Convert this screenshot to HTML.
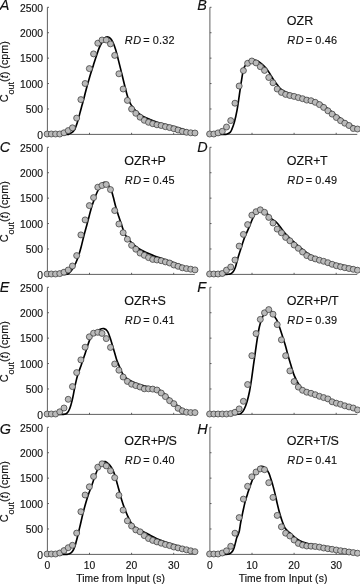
<!DOCTYPE html><html><head><meta charset="utf-8"><style>html,body{margin:0;padding:0;background:#fff;}svg{display:block;will-change:transform;}text{font-family:"Liberation Sans", sans-serif;fill:#111;stroke:#111;stroke-width:0.15px;}</style></head><body>
<svg width="360" height="584" viewBox="0 0 360 584">
<path d="M47.40,7.30 V134.40 H194.75" fill="none" stroke="#4e4e4e" stroke-width="0.9"/>
<path d="M47.40,134.40 h1.6" stroke="#4e4e4e" stroke-width="0.9"/>
<path d="M47.40,108.98 h1.6" stroke="#4e4e4e" stroke-width="0.9"/>
<path d="M47.40,83.56 h1.6" stroke="#4e4e4e" stroke-width="0.9"/>
<path d="M47.40,58.14 h1.6" stroke="#4e4e4e" stroke-width="0.9"/>
<path d="M47.40,32.72 h1.6" stroke="#4e4e4e" stroke-width="0.9"/>
<path d="M47.40,7.30 h1.6" stroke="#4e4e4e" stroke-width="0.9"/>
<path d="M47.40,134.40 v-1.6" stroke="#4e4e4e" stroke-width="0.9"/>
<path d="M89.50,134.40 v-1.6" stroke="#4e4e4e" stroke-width="0.9"/>
<path d="M131.60,134.40 v-1.6" stroke="#4e4e4e" stroke-width="0.9"/>
<path d="M173.70,134.40 v-1.6" stroke="#4e4e4e" stroke-width="0.9"/>
<text x="42.9" y="138.60" font-size="10.3" text-anchor="end">0</text>
<text x="42.9" y="113.18" font-size="10.3" text-anchor="end">500</text>
<text x="42.9" y="87.76" font-size="10.3" text-anchor="end">1000</text>
<text x="42.9" y="62.34" font-size="10.3" text-anchor="end">1500</text>
<text x="42.9" y="36.92" font-size="10.3" text-anchor="end">2000</text>
<text x="42.9" y="11.50" font-size="10.3" text-anchor="end">2500</text>
<text transform="translate(7.9,71.65) rotate(-90)" font-size="10.8" text-anchor="middle">C<tspan font-size="9" dy="6.1">out</tspan><tspan dy="-6.1">(</tspan><tspan font-style="italic">t</tspan>) (cpm)</text>
<text x="-0.30" y="9.80" font-size="14.4" font-style="italic">A</text>
<text x="124.70" y="43.60" font-size="10.9"><tspan font-style="italic" letter-spacing="0.75">RD</tspan><tspan dx="-1.7"> = </tspan><tspan letter-spacing="0.2">0.32</tspan></text>
<path d="M47.40,134.40 C50.58,134.40 62.95,134.45 66.50,134.40 C70.05,134.35 67.95,134.32 68.70,134.10 C69.45,133.88 70.28,133.52 71.00,133.10 C71.72,132.68 72.33,132.28 73.00,131.60 C73.67,130.92 74.45,130.03 75.00,129.00 C75.55,127.97 75.85,126.68 76.30,125.40 C76.75,124.12 77.27,122.70 77.70,121.30 C78.13,119.90 78.48,118.55 78.90,117.00 C79.32,115.45 79.68,113.95 80.20,112.00 C80.72,110.05 81.40,107.48 82.00,105.30 C82.60,103.12 83.27,100.90 83.80,98.90 C84.33,96.90 84.68,95.33 85.20,93.30 C85.72,91.27 86.30,88.92 86.90,86.70 C87.50,84.48 88.15,82.23 88.80,80.00 C89.45,77.77 90.03,75.77 90.80,73.30 C91.57,70.83 92.52,67.95 93.40,65.20 C94.28,62.45 95.17,59.60 96.10,56.80 C97.03,54.00 98.05,50.78 99.00,48.40 C99.95,46.02 100.90,44.18 101.80,42.50 C102.70,40.82 103.50,39.23 104.40,38.30 C105.30,37.37 106.20,36.90 107.20,36.90 C108.20,36.90 109.45,37.42 110.38,38.30 C111.31,39.18 111.93,40.35 112.80,42.20 C113.67,44.05 114.77,46.80 115.60,49.40 C116.43,52.00 116.97,54.55 117.80,57.80 C118.63,61.05 119.03,62.65 120.60,68.90 C122.17,75.15 125.45,89.30 127.20,95.30 C128.95,101.30 128.97,101.70 131.10,104.90 C133.23,108.10 136.85,112.07 140.00,114.50 C143.15,116.93 146.77,118.08 150.00,119.50 C153.23,120.92 156.50,122.08 159.40,123.00 C162.30,123.92 164.40,124.25 167.40,125.00 C170.40,125.75 174.07,126.58 177.40,127.50 C180.73,128.42 184.57,129.58 187.40,130.50 C190.23,131.42 193.23,132.58 194.40,133.00" fill="none" stroke="#000" stroke-width="1.65" stroke-linejoin="round" stroke-linecap="round"/>
<circle cx="47.10" cy="134.00" r="3.0" fill="#bababa" stroke="#444" stroke-width="0.8"/>
<circle cx="51.33" cy="134.00" r="3.0" fill="#bababa" stroke="#444" stroke-width="0.8"/>
<circle cx="55.55" cy="134.00" r="3.0" fill="#bababa" stroke="#444" stroke-width="0.8"/>
<circle cx="59.77" cy="134.00" r="3.0" fill="#bababa" stroke="#444" stroke-width="0.8"/>
<circle cx="64.00" cy="132.80" r="3.0" fill="#bababa" stroke="#444" stroke-width="0.8"/>
<circle cx="68.22" cy="130.60" r="3.0" fill="#bababa" stroke="#444" stroke-width="0.8"/>
<circle cx="72.45" cy="127.80" r="3.0" fill="#bababa" stroke="#444" stroke-width="0.8"/>
<circle cx="76.67" cy="118.10" r="3.0" fill="#bababa" stroke="#444" stroke-width="0.8"/>
<circle cx="80.90" cy="99.60" r="3.0" fill="#bababa" stroke="#444" stroke-width="0.8"/>
<circle cx="85.12" cy="83.50" r="3.0" fill="#bababa" stroke="#444" stroke-width="0.8"/>
<circle cx="89.35" cy="68.60" r="3.0" fill="#bababa" stroke="#444" stroke-width="0.8"/>
<circle cx="93.57" cy="53.90" r="3.0" fill="#bababa" stroke="#444" stroke-width="0.8"/>
<circle cx="97.80" cy="43.20" r="3.0" fill="#bababa" stroke="#444" stroke-width="0.8"/>
<circle cx="102.03" cy="40.00" r="3.0" fill="#bababa" stroke="#444" stroke-width="0.8"/>
<circle cx="106.25" cy="40.00" r="3.0" fill="#bababa" stroke="#444" stroke-width="0.8"/>
<circle cx="110.47" cy="43.90" r="3.0" fill="#bababa" stroke="#444" stroke-width="0.8"/>
<circle cx="114.70" cy="55.40" r="3.0" fill="#bababa" stroke="#444" stroke-width="0.8"/>
<circle cx="118.92" cy="73.80" r="3.0" fill="#bababa" stroke="#444" stroke-width="0.8"/>
<circle cx="123.15" cy="89.00" r="3.0" fill="#bababa" stroke="#444" stroke-width="0.8"/>
<circle cx="127.38" cy="100.40" r="3.0" fill="#bababa" stroke="#444" stroke-width="0.8"/>
<circle cx="131.60" cy="109.00" r="3.0" fill="#bababa" stroke="#444" stroke-width="0.8"/>
<circle cx="135.82" cy="113.30" r="3.0" fill="#bababa" stroke="#444" stroke-width="0.8"/>
<circle cx="140.05" cy="117.20" r="3.0" fill="#bababa" stroke="#444" stroke-width="0.8"/>
<circle cx="144.28" cy="120.30" r="3.0" fill="#bababa" stroke="#444" stroke-width="0.8"/>
<circle cx="148.50" cy="122.30" r="3.0" fill="#bababa" stroke="#444" stroke-width="0.8"/>
<circle cx="152.72" cy="123.70" r="3.0" fill="#bababa" stroke="#444" stroke-width="0.8"/>
<circle cx="156.95" cy="124.80" r="3.0" fill="#bababa" stroke="#444" stroke-width="0.8"/>
<circle cx="161.17" cy="125.50" r="3.0" fill="#bababa" stroke="#444" stroke-width="0.8"/>
<circle cx="165.40" cy="126.70" r="3.0" fill="#bababa" stroke="#444" stroke-width="0.8"/>
<circle cx="169.62" cy="127.60" r="3.0" fill="#bababa" stroke="#444" stroke-width="0.8"/>
<circle cx="173.85" cy="128.70" r="3.0" fill="#bababa" stroke="#444" stroke-width="0.8"/>
<circle cx="178.07" cy="130.00" r="3.0" fill="#bababa" stroke="#444" stroke-width="0.8"/>
<circle cx="182.30" cy="131.40" r="3.0" fill="#bababa" stroke="#444" stroke-width="0.8"/>
<circle cx="186.52" cy="132.30" r="3.0" fill="#bababa" stroke="#444" stroke-width="0.8"/>
<circle cx="190.75" cy="132.80" r="3.0" fill="#bababa" stroke="#444" stroke-width="0.8"/>
<circle cx="194.97" cy="133.00" r="3.0" fill="#bababa" stroke="#444" stroke-width="0.8"/>
<path d="M209.90,7.30 V134.40 H357.25" fill="none" stroke="#4e4e4e" stroke-width="0.9"/>
<path d="M209.90,134.40 h1.6" stroke="#4e4e4e" stroke-width="0.9"/>
<path d="M209.90,108.98 h1.6" stroke="#4e4e4e" stroke-width="0.9"/>
<path d="M209.90,83.56 h1.6" stroke="#4e4e4e" stroke-width="0.9"/>
<path d="M209.90,58.14 h1.6" stroke="#4e4e4e" stroke-width="0.9"/>
<path d="M209.90,32.72 h1.6" stroke="#4e4e4e" stroke-width="0.9"/>
<path d="M209.90,7.30 h1.6" stroke="#4e4e4e" stroke-width="0.9"/>
<path d="M209.90,134.40 v-1.6" stroke="#4e4e4e" stroke-width="0.9"/>
<path d="M252.00,134.40 v-1.6" stroke="#4e4e4e" stroke-width="0.9"/>
<path d="M294.10,134.40 v-1.6" stroke="#4e4e4e" stroke-width="0.9"/>
<path d="M336.20,134.40 v-1.6" stroke="#4e4e4e" stroke-width="0.9"/>
<text x="197.20" y="9.80" font-size="14.4" font-style="italic">B</text>
<text x="286.80" y="24.70" font-size="12.5">OZR</text>
<text x="287.20" y="43.60" font-size="10.9"><tspan font-style="italic" letter-spacing="0.75">RD</tspan><tspan dx="-1.7"> = </tspan><tspan letter-spacing="0.2">0.46</tspan></text>
<path d="M209.90,134.40 C212.25,134.40 221.12,134.47 224.00,134.40 C226.88,134.33 226.14,134.33 227.16,134.00 C228.18,133.67 229.34,133.12 230.10,132.40 C230.86,131.68 230.98,131.42 231.70,129.70 C232.42,127.98 233.50,125.42 234.40,122.10 C235.30,118.78 236.30,114.13 237.10,109.80 C237.90,105.47 238.52,100.67 239.20,96.10 C239.88,91.53 240.52,86.73 241.20,82.40 C241.88,78.07 242.60,72.95 243.30,70.10 C244.00,67.25 244.53,66.78 245.40,65.30 C246.27,63.82 247.47,62.17 248.49,61.20 C249.51,60.23 250.31,59.61 251.50,59.48 C252.69,59.35 254.38,60.05 255.60,60.40 C256.82,60.75 257.65,60.92 258.80,61.60 C259.95,62.28 261.25,63.37 262.50,64.50 C263.75,65.64 265.05,66.84 266.30,68.41 C267.55,69.98 268.75,71.95 270.00,73.90 C271.25,75.85 272.55,78.23 273.80,80.10 C275.05,81.97 276.25,83.53 277.50,85.10 C278.75,86.67 279.83,88.30 281.30,89.50 C282.77,90.70 284.52,91.52 286.30,92.30 C288.08,93.08 289.72,93.53 292.00,94.20 C294.28,94.87 297.50,95.62 300.00,96.30 C302.50,96.98 305.00,97.78 307.00,98.30 C309.00,98.82 310.33,98.88 312.00,99.40 C313.67,99.92 315.33,100.58 317.00,101.40 C318.67,102.22 320.33,103.20 322.00,104.30 C323.67,105.40 325.33,106.72 327.00,108.00 C328.67,109.28 330.33,110.70 332.00,112.00 C333.67,113.30 335.33,114.57 337.00,115.80 C338.67,117.03 340.33,118.27 342.00,119.40 C343.67,120.53 345.33,121.57 347.00,122.60 C348.67,123.63 350.30,124.73 352.00,125.60 C353.70,126.47 356.33,127.43 357.20,127.80" fill="none" stroke="#000" stroke-width="1.65" stroke-linejoin="round" stroke-linecap="round"/>
<circle cx="209.60" cy="134.00" r="3.0" fill="#bababa" stroke="#444" stroke-width="0.8"/>
<circle cx="213.82" cy="134.00" r="3.0" fill="#bababa" stroke="#444" stroke-width="0.8"/>
<circle cx="218.05" cy="132.90" r="3.0" fill="#bababa" stroke="#444" stroke-width="0.8"/>
<circle cx="222.28" cy="131.30" r="3.0" fill="#bababa" stroke="#444" stroke-width="0.8"/>
<circle cx="226.50" cy="127.00" r="3.0" fill="#bababa" stroke="#444" stroke-width="0.8"/>
<circle cx="230.72" cy="120.60" r="3.0" fill="#bababa" stroke="#444" stroke-width="0.8"/>
<circle cx="234.95" cy="103.20" r="3.0" fill="#bababa" stroke="#444" stroke-width="0.8"/>
<circle cx="239.17" cy="86.00" r="3.0" fill="#bababa" stroke="#444" stroke-width="0.8"/>
<circle cx="243.40" cy="70.60" r="3.0" fill="#bababa" stroke="#444" stroke-width="0.8"/>
<circle cx="247.62" cy="63.30" r="3.0" fill="#bababa" stroke="#444" stroke-width="0.8"/>
<circle cx="251.85" cy="61.00" r="3.0" fill="#bababa" stroke="#444" stroke-width="0.8"/>
<circle cx="256.07" cy="62.90" r="3.0" fill="#bababa" stroke="#444" stroke-width="0.8"/>
<circle cx="260.30" cy="66.70" r="3.0" fill="#bababa" stroke="#444" stroke-width="0.8"/>
<circle cx="264.52" cy="70.40" r="3.0" fill="#bababa" stroke="#444" stroke-width="0.8"/>
<circle cx="268.75" cy="77.50" r="3.0" fill="#bababa" stroke="#444" stroke-width="0.8"/>
<circle cx="272.97" cy="82.80" r="3.0" fill="#bababa" stroke="#444" stroke-width="0.8"/>
<circle cx="277.20" cy="89.00" r="3.0" fill="#bababa" stroke="#444" stroke-width="0.8"/>
<circle cx="281.42" cy="92.40" r="3.0" fill="#bababa" stroke="#444" stroke-width="0.8"/>
<circle cx="285.65" cy="94.40" r="3.0" fill="#bababa" stroke="#444" stroke-width="0.8"/>
<circle cx="289.88" cy="95.50" r="3.0" fill="#bababa" stroke="#444" stroke-width="0.8"/>
<circle cx="294.10" cy="96.40" r="3.0" fill="#bababa" stroke="#444" stroke-width="0.8"/>
<circle cx="298.32" cy="97.60" r="3.0" fill="#bababa" stroke="#444" stroke-width="0.8"/>
<circle cx="302.55" cy="98.70" r="3.0" fill="#bababa" stroke="#444" stroke-width="0.8"/>
<circle cx="306.77" cy="100.10" r="3.0" fill="#bababa" stroke="#444" stroke-width="0.8"/>
<circle cx="311.00" cy="100.70" r="3.0" fill="#bababa" stroke="#444" stroke-width="0.8"/>
<circle cx="315.22" cy="102.30" r="3.0" fill="#bababa" stroke="#444" stroke-width="0.8"/>
<circle cx="319.45" cy="104.60" r="3.0" fill="#bababa" stroke="#444" stroke-width="0.8"/>
<circle cx="323.67" cy="107.40" r="3.0" fill="#bababa" stroke="#444" stroke-width="0.8"/>
<circle cx="327.90" cy="110.80" r="3.0" fill="#bababa" stroke="#444" stroke-width="0.8"/>
<circle cx="332.12" cy="114.10" r="3.0" fill="#bababa" stroke="#444" stroke-width="0.8"/>
<circle cx="336.35" cy="117.50" r="3.0" fill="#bababa" stroke="#444" stroke-width="0.8"/>
<circle cx="340.57" cy="120.70" r="3.0" fill="#bababa" stroke="#444" stroke-width="0.8"/>
<circle cx="344.80" cy="123.20" r="3.0" fill="#bababa" stroke="#444" stroke-width="0.8"/>
<circle cx="349.02" cy="125.50" r="3.0" fill="#bababa" stroke="#444" stroke-width="0.8"/>
<circle cx="353.25" cy="128.50" r="3.0" fill="#bababa" stroke="#444" stroke-width="0.8"/>
<circle cx="357.48" cy="129.00" r="3.0" fill="#bababa" stroke="#444" stroke-width="0.8"/>
<path d="M47.40,147.30 V274.40 H194.75" fill="none" stroke="#4e4e4e" stroke-width="0.9"/>
<path d="M47.40,274.40 h1.6" stroke="#4e4e4e" stroke-width="0.9"/>
<path d="M47.40,248.98 h1.6" stroke="#4e4e4e" stroke-width="0.9"/>
<path d="M47.40,223.56 h1.6" stroke="#4e4e4e" stroke-width="0.9"/>
<path d="M47.40,198.14 h1.6" stroke="#4e4e4e" stroke-width="0.9"/>
<path d="M47.40,172.72 h1.6" stroke="#4e4e4e" stroke-width="0.9"/>
<path d="M47.40,147.30 h1.6" stroke="#4e4e4e" stroke-width="0.9"/>
<path d="M47.40,274.40 v-1.6" stroke="#4e4e4e" stroke-width="0.9"/>
<path d="M89.50,274.40 v-1.6" stroke="#4e4e4e" stroke-width="0.9"/>
<path d="M131.60,274.40 v-1.6" stroke="#4e4e4e" stroke-width="0.9"/>
<path d="M173.70,274.40 v-1.6" stroke="#4e4e4e" stroke-width="0.9"/>
<text x="42.9" y="278.60" font-size="10.3" text-anchor="end">0</text>
<text x="42.9" y="253.18" font-size="10.3" text-anchor="end">500</text>
<text x="42.9" y="227.76" font-size="10.3" text-anchor="end">1000</text>
<text x="42.9" y="202.34" font-size="10.3" text-anchor="end">1500</text>
<text x="42.9" y="176.92" font-size="10.3" text-anchor="end">2000</text>
<text x="42.9" y="151.50" font-size="10.3" text-anchor="end">2500</text>
<text transform="translate(7.9,211.65) rotate(-90)" font-size="10.8" text-anchor="middle">C<tspan font-size="9" dy="6.1">out</tspan><tspan dy="-6.1">(</tspan><tspan font-style="italic">t</tspan>) (cpm)</text>
<text x="-0.30" y="151.90" font-size="14.4" font-style="italic">C</text>
<text x="124.30" y="164.70" font-size="12.5">OZR<tspan letter-spacing="-0.4">+P</tspan></text>
<text x="124.70" y="183.60" font-size="10.9"><tspan font-style="italic" letter-spacing="0.75">RD</tspan><tspan dx="-1.7"> = </tspan><tspan letter-spacing="0.2">0.45</tspan></text>
<path d="M47.40,274.40 C50.17,274.40 60.77,274.43 64.00,274.40 C67.23,274.37 66.00,274.38 66.80,274.20 C67.60,274.02 68.00,273.93 68.80,273.30 C69.60,272.67 70.45,272.10 71.60,270.40 C72.75,268.70 74.57,265.45 75.70,263.10 C76.83,260.75 77.48,259.03 78.40,256.30 C79.32,253.57 80.28,250.13 81.20,246.70 C82.12,243.27 82.98,239.23 83.90,235.70 C84.82,232.17 85.78,228.92 86.70,225.50 C87.62,222.08 88.50,218.52 89.40,215.20 C90.30,211.88 91.27,208.30 92.10,205.60 C92.93,202.90 93.58,201.18 94.40,199.00 C95.22,196.82 96.03,194.62 97.00,192.50 C97.97,190.38 99.02,188.00 100.20,186.30 C101.38,184.60 102.87,182.63 104.10,182.30 C105.33,181.97 106.43,183.03 107.60,184.30 C108.77,185.57 110.17,187.82 111.10,189.90 C112.03,191.98 112.40,193.90 113.20,196.80 C114.00,199.70 114.98,204.05 115.90,207.30 C116.82,210.55 117.77,213.42 118.70,216.30 C119.63,219.18 120.45,221.60 121.50,224.60 C122.55,227.60 123.58,231.57 125.00,234.30 C126.42,237.03 127.87,238.72 130.00,241.00 C132.13,243.28 135.20,246.12 137.80,248.00 C140.40,249.88 143.02,251.05 145.60,252.30 C148.18,253.55 150.90,254.58 153.30,255.50 C155.70,256.42 157.22,256.85 160.00,257.80 C162.78,258.75 166.67,260.03 170.00,261.20 C173.33,262.37 177.00,263.73 180.00,264.80 C183.00,265.87 185.60,266.90 188.00,267.60 C190.40,268.30 193.33,268.77 194.40,269.00" fill="none" stroke="#000" stroke-width="1.65" stroke-linejoin="round" stroke-linecap="round"/>
<circle cx="47.10" cy="274.00" r="3.0" fill="#bababa" stroke="#444" stroke-width="0.8"/>
<circle cx="51.33" cy="274.00" r="3.0" fill="#bababa" stroke="#444" stroke-width="0.8"/>
<circle cx="55.55" cy="274.00" r="3.0" fill="#bababa" stroke="#444" stroke-width="0.8"/>
<circle cx="59.77" cy="273.60" r="3.0" fill="#bababa" stroke="#444" stroke-width="0.8"/>
<circle cx="64.00" cy="272.20" r="3.0" fill="#bababa" stroke="#444" stroke-width="0.8"/>
<circle cx="68.22" cy="270.00" r="3.0" fill="#bababa" stroke="#444" stroke-width="0.8"/>
<circle cx="72.45" cy="266.00" r="3.0" fill="#bababa" stroke="#444" stroke-width="0.8"/>
<circle cx="76.67" cy="255.60" r="3.0" fill="#bababa" stroke="#444" stroke-width="0.8"/>
<circle cx="80.90" cy="234.90" r="3.0" fill="#bababa" stroke="#444" stroke-width="0.8"/>
<circle cx="85.12" cy="219.90" r="3.0" fill="#bababa" stroke="#444" stroke-width="0.8"/>
<circle cx="89.35" cy="205.60" r="3.0" fill="#bababa" stroke="#444" stroke-width="0.8"/>
<circle cx="93.57" cy="197.60" r="3.0" fill="#bababa" stroke="#444" stroke-width="0.8"/>
<circle cx="97.80" cy="187.20" r="3.0" fill="#bababa" stroke="#444" stroke-width="0.8"/>
<circle cx="102.03" cy="185.50" r="3.0" fill="#bababa" stroke="#444" stroke-width="0.8"/>
<circle cx="106.25" cy="184.50" r="3.0" fill="#bababa" stroke="#444" stroke-width="0.8"/>
<circle cx="110.47" cy="189.60" r="3.0" fill="#bababa" stroke="#444" stroke-width="0.8"/>
<circle cx="114.70" cy="210.60" r="3.0" fill="#bababa" stroke="#444" stroke-width="0.8"/>
<circle cx="118.92" cy="224.00" r="3.0" fill="#bababa" stroke="#444" stroke-width="0.8"/>
<circle cx="123.15" cy="232.70" r="3.0" fill="#bababa" stroke="#444" stroke-width="0.8"/>
<circle cx="127.38" cy="239.20" r="3.0" fill="#bababa" stroke="#444" stroke-width="0.8"/>
<circle cx="131.60" cy="245.30" r="3.0" fill="#bababa" stroke="#444" stroke-width="0.8"/>
<circle cx="135.82" cy="249.20" r="3.0" fill="#bababa" stroke="#444" stroke-width="0.8"/>
<circle cx="140.05" cy="253.10" r="3.0" fill="#bababa" stroke="#444" stroke-width="0.8"/>
<circle cx="144.28" cy="255.30" r="3.0" fill="#bababa" stroke="#444" stroke-width="0.8"/>
<circle cx="148.50" cy="257.60" r="3.0" fill="#bababa" stroke="#444" stroke-width="0.8"/>
<circle cx="152.72" cy="259.40" r="3.0" fill="#bababa" stroke="#444" stroke-width="0.8"/>
<circle cx="156.95" cy="260.00" r="3.0" fill="#bababa" stroke="#444" stroke-width="0.8"/>
<circle cx="161.17" cy="260.70" r="3.0" fill="#bababa" stroke="#444" stroke-width="0.8"/>
<circle cx="165.40" cy="261.90" r="3.0" fill="#bababa" stroke="#444" stroke-width="0.8"/>
<circle cx="169.62" cy="263.00" r="3.0" fill="#bababa" stroke="#444" stroke-width="0.8"/>
<circle cx="173.85" cy="265.00" r="3.0" fill="#bababa" stroke="#444" stroke-width="0.8"/>
<circle cx="178.07" cy="266.30" r="3.0" fill="#bababa" stroke="#444" stroke-width="0.8"/>
<circle cx="182.30" cy="267.80" r="3.0" fill="#bababa" stroke="#444" stroke-width="0.8"/>
<circle cx="186.52" cy="268.60" r="3.0" fill="#bababa" stroke="#444" stroke-width="0.8"/>
<circle cx="190.75" cy="269.20" r="3.0" fill="#bababa" stroke="#444" stroke-width="0.8"/>
<circle cx="194.97" cy="269.90" r="3.0" fill="#bababa" stroke="#444" stroke-width="0.8"/>
<path d="M209.90,147.30 V274.40 H357.25" fill="none" stroke="#4e4e4e" stroke-width="0.9"/>
<path d="M209.90,274.40 h1.6" stroke="#4e4e4e" stroke-width="0.9"/>
<path d="M209.90,248.98 h1.6" stroke="#4e4e4e" stroke-width="0.9"/>
<path d="M209.90,223.56 h1.6" stroke="#4e4e4e" stroke-width="0.9"/>
<path d="M209.90,198.14 h1.6" stroke="#4e4e4e" stroke-width="0.9"/>
<path d="M209.90,172.72 h1.6" stroke="#4e4e4e" stroke-width="0.9"/>
<path d="M209.90,147.30 h1.6" stroke="#4e4e4e" stroke-width="0.9"/>
<path d="M209.90,274.40 v-1.6" stroke="#4e4e4e" stroke-width="0.9"/>
<path d="M252.00,274.40 v-1.6" stroke="#4e4e4e" stroke-width="0.9"/>
<path d="M294.10,274.40 v-1.6" stroke="#4e4e4e" stroke-width="0.9"/>
<path d="M336.20,274.40 v-1.6" stroke="#4e4e4e" stroke-width="0.9"/>
<text x="197.20" y="151.90" font-size="14.4" font-style="italic">D</text>
<text x="286.80" y="164.70" font-size="12.5">OZR<tspan letter-spacing="-0.4">+T</tspan></text>
<text x="287.20" y="183.60" font-size="10.9"><tspan font-style="italic" letter-spacing="0.75">RD</tspan><tspan dx="-1.7"> = </tspan><tspan letter-spacing="0.2">0.49</tspan></text>
<path d="M209.90,274.40 C212.58,274.40 222.82,274.43 226.00,274.40 C229.18,274.37 228.17,274.33 229.00,274.20 C229.83,274.07 230.28,274.03 231.00,273.60 C231.72,273.17 232.58,272.62 233.30,271.60 C234.02,270.58 234.77,268.88 235.30,267.50 C235.83,266.12 236.10,264.77 236.50,263.30 C236.90,261.83 237.22,260.37 237.70,258.70 C238.18,257.03 238.82,255.12 239.40,253.30 C239.98,251.48 240.60,249.68 241.20,247.80 C241.80,245.92 242.37,243.90 243.00,242.00 C243.63,240.10 244.21,238.33 245.00,236.40 C245.79,234.47 246.85,232.43 247.73,230.40 C248.61,228.37 249.47,226.18 250.30,224.20 C251.13,222.22 251.97,220.17 252.70,218.50 C253.43,216.83 253.98,215.40 254.66,214.20 C255.34,213.00 255.99,212.03 256.80,211.30 C257.61,210.57 258.58,210.05 259.50,209.80 C260.42,209.55 261.30,209.50 262.30,209.80 C263.30,210.10 264.55,210.82 265.50,211.60 C266.45,212.38 267.13,213.43 268.00,214.50 C268.87,215.57 269.33,216.72 270.70,218.00 C272.07,219.28 274.53,220.63 276.20,222.20 C277.87,223.77 279.22,225.53 280.70,227.40 C282.18,229.27 283.62,231.63 285.10,233.40 C286.58,235.17 288.12,236.58 289.60,238.00 C291.08,239.42 292.27,240.35 294.00,241.90 C295.73,243.45 297.33,245.15 300.00,247.30 C302.67,249.45 306.67,252.85 310.00,254.80 C313.33,256.75 317.00,257.83 320.00,259.00 C323.00,260.17 325.37,261.05 328.00,261.80 C330.63,262.55 333.52,262.98 335.80,263.50 C338.08,264.02 339.62,264.38 341.70,264.90 C343.78,265.42 345.75,266.03 348.30,266.60 C350.85,267.17 355.55,268.02 357.00,268.30" fill="none" stroke="#000" stroke-width="1.65" stroke-linejoin="round" stroke-linecap="round"/>
<circle cx="209.60" cy="274.00" r="3.0" fill="#bababa" stroke="#444" stroke-width="0.8"/>
<circle cx="213.82" cy="274.00" r="3.0" fill="#bababa" stroke="#444" stroke-width="0.8"/>
<circle cx="218.05" cy="274.00" r="3.0" fill="#bababa" stroke="#444" stroke-width="0.8"/>
<circle cx="222.28" cy="273.50" r="3.0" fill="#bababa" stroke="#444" stroke-width="0.8"/>
<circle cx="226.50" cy="270.10" r="3.0" fill="#bababa" stroke="#444" stroke-width="0.8"/>
<circle cx="230.72" cy="267.00" r="3.0" fill="#bababa" stroke="#444" stroke-width="0.8"/>
<circle cx="234.95" cy="260.00" r="3.0" fill="#bababa" stroke="#444" stroke-width="0.8"/>
<circle cx="239.17" cy="246.10" r="3.0" fill="#bababa" stroke="#444" stroke-width="0.8"/>
<circle cx="243.40" cy="234.40" r="3.0" fill="#bababa" stroke="#444" stroke-width="0.8"/>
<circle cx="247.62" cy="224.60" r="3.0" fill="#bababa" stroke="#444" stroke-width="0.8"/>
<circle cx="251.85" cy="215.20" r="3.0" fill="#bababa" stroke="#444" stroke-width="0.8"/>
<circle cx="256.07" cy="211.70" r="3.0" fill="#bababa" stroke="#444" stroke-width="0.8"/>
<circle cx="260.30" cy="209.80" r="3.0" fill="#bababa" stroke="#444" stroke-width="0.8"/>
<circle cx="264.52" cy="212.30" r="3.0" fill="#bababa" stroke="#444" stroke-width="0.8"/>
<circle cx="268.75" cy="217.40" r="3.0" fill="#bababa" stroke="#444" stroke-width="0.8"/>
<circle cx="272.97" cy="223.00" r="3.0" fill="#bababa" stroke="#444" stroke-width="0.8"/>
<circle cx="277.20" cy="229.10" r="3.0" fill="#bababa" stroke="#444" stroke-width="0.8"/>
<circle cx="281.42" cy="232.80" r="3.0" fill="#bababa" stroke="#444" stroke-width="0.8"/>
<circle cx="285.65" cy="237.40" r="3.0" fill="#bababa" stroke="#444" stroke-width="0.8"/>
<circle cx="289.88" cy="240.80" r="3.0" fill="#bababa" stroke="#444" stroke-width="0.8"/>
<circle cx="294.10" cy="245.00" r="3.0" fill="#bababa" stroke="#444" stroke-width="0.8"/>
<circle cx="298.32" cy="248.30" r="3.0" fill="#bababa" stroke="#444" stroke-width="0.8"/>
<circle cx="302.55" cy="252.00" r="3.0" fill="#bababa" stroke="#444" stroke-width="0.8"/>
<circle cx="306.77" cy="255.60" r="3.0" fill="#bababa" stroke="#444" stroke-width="0.8"/>
<circle cx="311.00" cy="257.60" r="3.0" fill="#bababa" stroke="#444" stroke-width="0.8"/>
<circle cx="315.22" cy="258.90" r="3.0" fill="#bababa" stroke="#444" stroke-width="0.8"/>
<circle cx="319.45" cy="260.20" r="3.0" fill="#bababa" stroke="#444" stroke-width="0.8"/>
<circle cx="323.67" cy="261.30" r="3.0" fill="#bababa" stroke="#444" stroke-width="0.8"/>
<circle cx="327.90" cy="262.70" r="3.0" fill="#bababa" stroke="#444" stroke-width="0.8"/>
<circle cx="332.12" cy="264.30" r="3.0" fill="#bababa" stroke="#444" stroke-width="0.8"/>
<circle cx="336.35" cy="265.70" r="3.0" fill="#bababa" stroke="#444" stroke-width="0.8"/>
<circle cx="340.57" cy="266.80" r="3.0" fill="#bababa" stroke="#444" stroke-width="0.8"/>
<circle cx="344.80" cy="267.70" r="3.0" fill="#bababa" stroke="#444" stroke-width="0.8"/>
<circle cx="349.02" cy="268.50" r="3.0" fill="#bababa" stroke="#444" stroke-width="0.8"/>
<circle cx="353.25" cy="269.30" r="3.0" fill="#bababa" stroke="#444" stroke-width="0.8"/>
<circle cx="357.48" cy="270.20" r="3.0" fill="#bababa" stroke="#444" stroke-width="0.8"/>
<path d="M47.40,287.30 V414.40 H194.75" fill="none" stroke="#4e4e4e" stroke-width="0.9"/>
<path d="M47.40,414.40 h1.6" stroke="#4e4e4e" stroke-width="0.9"/>
<path d="M47.40,388.98 h1.6" stroke="#4e4e4e" stroke-width="0.9"/>
<path d="M47.40,363.56 h1.6" stroke="#4e4e4e" stroke-width="0.9"/>
<path d="M47.40,338.14 h1.6" stroke="#4e4e4e" stroke-width="0.9"/>
<path d="M47.40,312.72 h1.6" stroke="#4e4e4e" stroke-width="0.9"/>
<path d="M47.40,287.30 h1.6" stroke="#4e4e4e" stroke-width="0.9"/>
<path d="M47.40,414.40 v-1.6" stroke="#4e4e4e" stroke-width="0.9"/>
<path d="M89.50,414.40 v-1.6" stroke="#4e4e4e" stroke-width="0.9"/>
<path d="M131.60,414.40 v-1.6" stroke="#4e4e4e" stroke-width="0.9"/>
<path d="M173.70,414.40 v-1.6" stroke="#4e4e4e" stroke-width="0.9"/>
<text x="42.9" y="418.60" font-size="10.3" text-anchor="end">0</text>
<text x="42.9" y="393.18" font-size="10.3" text-anchor="end">500</text>
<text x="42.9" y="367.76" font-size="10.3" text-anchor="end">1000</text>
<text x="42.9" y="342.34" font-size="10.3" text-anchor="end">1500</text>
<text x="42.9" y="316.92" font-size="10.3" text-anchor="end">2000</text>
<text x="42.9" y="291.50" font-size="10.3" text-anchor="end">2500</text>
<text transform="translate(7.9,351.65) rotate(-90)" font-size="10.8" text-anchor="middle">C<tspan font-size="9" dy="6.1">out</tspan><tspan dy="-6.1">(</tspan><tspan font-style="italic">t</tspan>) (cpm)</text>
<text x="-0.30" y="291.80" font-size="14.4" font-style="italic">E</text>
<text x="124.30" y="304.70" font-size="12.5">OZR<tspan letter-spacing="-0.4">+S</tspan></text>
<text x="124.70" y="323.60" font-size="10.9"><tspan font-style="italic" letter-spacing="0.75">RD</tspan><tspan dx="-1.7"> = </tspan><tspan letter-spacing="0.2">0.41</tspan></text>
<path d="M47.40,414.40 C50.07,414.40 60.10,414.65 63.40,414.40 C66.70,414.15 66.15,413.83 67.20,412.90 C68.25,411.97 68.88,410.85 69.70,408.80 C70.52,406.75 71.42,403.33 72.10,400.60 C72.78,397.87 73.25,395.15 73.80,392.40 C74.35,389.65 74.72,387.12 75.40,384.10 C76.08,381.08 76.93,377.45 77.90,374.30 C78.87,371.15 80.10,368.35 81.20,365.20 C82.30,362.05 83.55,358.27 84.50,355.40 C85.45,352.53 86.08,350.47 86.90,348.00 C87.72,345.53 88.57,342.67 89.40,340.60 C90.23,338.53 90.93,337.04 91.90,335.60 C92.88,334.16 93.97,333.01 95.25,331.98 C96.53,330.95 98.16,329.96 99.60,329.40 C101.03,328.84 102.53,328.27 103.86,328.60 C105.19,328.93 106.50,329.79 107.56,331.37 C108.62,332.95 109.41,335.83 110.20,338.10 C110.99,340.37 111.60,342.68 112.30,345.00 C113.00,347.32 113.72,349.68 114.40,352.00 C115.08,354.32 115.72,356.83 116.40,358.90 C117.08,360.97 117.80,362.67 118.50,364.40 C119.20,366.13 119.88,367.67 120.60,369.30 C121.32,370.93 122.07,372.92 122.84,374.20 C123.61,375.48 124.01,375.95 125.20,377.00 C126.39,378.05 128.20,379.47 130.00,380.50 C131.80,381.53 133.67,382.32 136.00,383.20 C138.33,384.08 141.33,385.13 144.00,385.80 C146.67,386.47 149.83,386.75 152.00,387.20 C154.17,387.65 155.50,387.90 157.00,388.50 C158.50,389.10 159.67,389.85 161.00,390.80 C162.33,391.75 163.67,392.97 165.00,394.20 C166.33,395.43 167.58,396.90 169.00,398.20 C170.42,399.50 172.00,400.70 173.50,402.00 C175.00,403.30 176.42,404.75 178.00,406.00 C179.58,407.25 181.33,408.58 183.00,409.50 C184.67,410.42 186.10,411.03 188.00,411.50 C189.90,411.97 193.33,412.17 194.40,412.30" fill="none" stroke="#000" stroke-width="1.65" stroke-linejoin="round" stroke-linecap="round"/>
<circle cx="47.10" cy="414.00" r="3.0" fill="#bababa" stroke="#444" stroke-width="0.8"/>
<circle cx="51.33" cy="414.00" r="3.0" fill="#bababa" stroke="#444" stroke-width="0.8"/>
<circle cx="55.55" cy="414.00" r="3.0" fill="#bababa" stroke="#444" stroke-width="0.8"/>
<circle cx="59.77" cy="411.80" r="3.0" fill="#bababa" stroke="#444" stroke-width="0.8"/>
<circle cx="64.00" cy="408.00" r="3.0" fill="#bababa" stroke="#444" stroke-width="0.8"/>
<circle cx="68.22" cy="399.30" r="3.0" fill="#bababa" stroke="#444" stroke-width="0.8"/>
<circle cx="72.45" cy="386.60" r="3.0" fill="#bababa" stroke="#444" stroke-width="0.8"/>
<circle cx="76.67" cy="372.60" r="3.0" fill="#bababa" stroke="#444" stroke-width="0.8"/>
<circle cx="80.90" cy="359.90" r="3.0" fill="#bababa" stroke="#444" stroke-width="0.8"/>
<circle cx="85.12" cy="347.20" r="3.0" fill="#bababa" stroke="#444" stroke-width="0.8"/>
<circle cx="89.35" cy="336.80" r="3.0" fill="#bababa" stroke="#444" stroke-width="0.8"/>
<circle cx="93.57" cy="333.20" r="3.0" fill="#bababa" stroke="#444" stroke-width="0.8"/>
<circle cx="97.80" cy="332.30" r="3.0" fill="#bababa" stroke="#444" stroke-width="0.8"/>
<circle cx="102.03" cy="333.40" r="3.0" fill="#bababa" stroke="#444" stroke-width="0.8"/>
<circle cx="106.25" cy="338.60" r="3.0" fill="#bababa" stroke="#444" stroke-width="0.8"/>
<circle cx="110.47" cy="347.40" r="3.0" fill="#bababa" stroke="#444" stroke-width="0.8"/>
<circle cx="114.70" cy="364.00" r="3.0" fill="#bababa" stroke="#444" stroke-width="0.8"/>
<circle cx="118.92" cy="370.20" r="3.0" fill="#bababa" stroke="#444" stroke-width="0.8"/>
<circle cx="123.15" cy="377.00" r="3.0" fill="#bababa" stroke="#444" stroke-width="0.8"/>
<circle cx="127.38" cy="381.40" r="3.0" fill="#bababa" stroke="#444" stroke-width="0.8"/>
<circle cx="131.60" cy="384.20" r="3.0" fill="#bababa" stroke="#444" stroke-width="0.8"/>
<circle cx="135.82" cy="385.60" r="3.0" fill="#bababa" stroke="#444" stroke-width="0.8"/>
<circle cx="140.05" cy="387.00" r="3.0" fill="#bababa" stroke="#444" stroke-width="0.8"/>
<circle cx="144.28" cy="388.80" r="3.0" fill="#bababa" stroke="#444" stroke-width="0.8"/>
<circle cx="148.50" cy="388.80" r="3.0" fill="#bababa" stroke="#444" stroke-width="0.8"/>
<circle cx="152.72" cy="389.10" r="3.0" fill="#bababa" stroke="#444" stroke-width="0.8"/>
<circle cx="156.95" cy="390.00" r="3.0" fill="#bababa" stroke="#444" stroke-width="0.8"/>
<circle cx="161.17" cy="393.00" r="3.0" fill="#bababa" stroke="#444" stroke-width="0.8"/>
<circle cx="165.40" cy="396.60" r="3.0" fill="#bababa" stroke="#444" stroke-width="0.8"/>
<circle cx="169.62" cy="400.70" r="3.0" fill="#bababa" stroke="#444" stroke-width="0.8"/>
<circle cx="173.85" cy="403.70" r="3.0" fill="#bababa" stroke="#444" stroke-width="0.8"/>
<circle cx="178.07" cy="408.30" r="3.0" fill="#bababa" stroke="#444" stroke-width="0.8"/>
<circle cx="182.30" cy="410.80" r="3.0" fill="#bababa" stroke="#444" stroke-width="0.8"/>
<circle cx="186.52" cy="412.20" r="3.0" fill="#bababa" stroke="#444" stroke-width="0.8"/>
<circle cx="190.75" cy="412.60" r="3.0" fill="#bababa" stroke="#444" stroke-width="0.8"/>
<circle cx="194.97" cy="412.60" r="3.0" fill="#bababa" stroke="#444" stroke-width="0.8"/>
<path d="M209.90,287.30 V414.40 H357.25" fill="none" stroke="#4e4e4e" stroke-width="0.9"/>
<path d="M209.90,414.40 h1.6" stroke="#4e4e4e" stroke-width="0.9"/>
<path d="M209.90,388.98 h1.6" stroke="#4e4e4e" stroke-width="0.9"/>
<path d="M209.90,363.56 h1.6" stroke="#4e4e4e" stroke-width="0.9"/>
<path d="M209.90,338.14 h1.6" stroke="#4e4e4e" stroke-width="0.9"/>
<path d="M209.90,312.72 h1.6" stroke="#4e4e4e" stroke-width="0.9"/>
<path d="M209.90,287.30 h1.6" stroke="#4e4e4e" stroke-width="0.9"/>
<path d="M209.90,414.40 v-1.6" stroke="#4e4e4e" stroke-width="0.9"/>
<path d="M252.00,414.40 v-1.6" stroke="#4e4e4e" stroke-width="0.9"/>
<path d="M294.10,414.40 v-1.6" stroke="#4e4e4e" stroke-width="0.9"/>
<path d="M336.20,414.40 v-1.6" stroke="#4e4e4e" stroke-width="0.9"/>
<text x="197.20" y="291.80" font-size="14.4" font-style="italic">F</text>
<text x="286.80" y="304.70" font-size="12.5">OZR<tspan letter-spacing="-0.4">+P/T</tspan></text>
<text x="287.20" y="323.60" font-size="10.9"><tspan font-style="italic" letter-spacing="0.75">RD</tspan><tspan dx="-1.7"> = </tspan><tspan letter-spacing="0.2">0.39</tspan></text>
<path d="M209.90,414.40 C214.25,414.40 230.80,414.58 236.00,414.40 C241.20,414.22 239.75,414.15 241.10,413.30 C242.45,412.45 243.10,411.28 244.10,409.30 C245.10,407.32 246.20,404.37 247.10,401.40 C248.00,398.43 248.77,395.15 249.50,391.50 C250.23,387.85 250.85,383.82 251.50,379.50 C252.15,375.18 252.75,370.23 253.40,365.60 C254.05,360.97 254.73,356.33 255.40,351.70 C256.07,347.07 256.73,341.95 257.40,337.80 C258.07,333.65 258.73,329.78 259.40,326.80 C260.07,323.82 260.68,321.95 261.40,319.90 C262.12,317.85 263.00,315.95 263.70,314.50 C264.40,313.05 264.73,312.00 265.60,311.20 C266.47,310.40 267.78,309.55 268.90,309.70 C270.02,309.85 271.28,310.87 272.30,312.10 C273.32,313.33 274.10,315.45 275.00,317.10 C275.90,318.75 276.82,319.93 277.70,322.00 C278.58,324.07 279.07,325.73 280.30,329.50 C281.53,333.27 283.83,340.35 285.10,344.60 C286.37,348.85 286.98,351.75 287.90,355.00 C288.82,358.25 289.65,360.95 290.60,364.10 C291.55,367.25 292.63,371.23 293.60,373.90 C294.57,376.57 295.36,378.13 296.40,380.10 C297.44,382.07 298.66,384.18 299.83,385.70 C301.00,387.22 301.70,388.18 303.40,389.20 C305.09,390.22 307.23,390.78 310.00,391.80 C312.77,392.82 316.67,394.05 320.00,395.30 C323.33,396.55 326.67,398.05 330.00,399.30 C333.33,400.55 336.67,401.65 340.00,402.80 C343.33,403.95 347.17,405.23 350.00,406.20 C352.83,407.17 355.83,408.20 357.00,408.60" fill="none" stroke="#000" stroke-width="1.65" stroke-linejoin="round" stroke-linecap="round"/>
<circle cx="209.60" cy="414.00" r="3.0" fill="#bababa" stroke="#444" stroke-width="0.8"/>
<circle cx="213.82" cy="414.00" r="3.0" fill="#bababa" stroke="#444" stroke-width="0.8"/>
<circle cx="218.05" cy="414.00" r="3.0" fill="#bababa" stroke="#444" stroke-width="0.8"/>
<circle cx="222.28" cy="414.00" r="3.0" fill="#bababa" stroke="#444" stroke-width="0.8"/>
<circle cx="226.50" cy="414.00" r="3.0" fill="#bababa" stroke="#444" stroke-width="0.8"/>
<circle cx="230.72" cy="413.60" r="3.0" fill="#bababa" stroke="#444" stroke-width="0.8"/>
<circle cx="234.95" cy="412.30" r="3.0" fill="#bababa" stroke="#444" stroke-width="0.8"/>
<circle cx="239.17" cy="408.90" r="3.0" fill="#bababa" stroke="#444" stroke-width="0.8"/>
<circle cx="243.40" cy="401.30" r="3.0" fill="#bababa" stroke="#444" stroke-width="0.8"/>
<circle cx="247.62" cy="384.50" r="3.0" fill="#bababa" stroke="#444" stroke-width="0.8"/>
<circle cx="251.85" cy="355.70" r="3.0" fill="#bababa" stroke="#444" stroke-width="0.8"/>
<circle cx="256.07" cy="333.60" r="3.0" fill="#bababa" stroke="#444" stroke-width="0.8"/>
<circle cx="260.30" cy="319.40" r="3.0" fill="#bababa" stroke="#444" stroke-width="0.8"/>
<circle cx="264.52" cy="312.80" r="3.0" fill="#bababa" stroke="#444" stroke-width="0.8"/>
<circle cx="268.75" cy="309.60" r="3.0" fill="#bababa" stroke="#444" stroke-width="0.8"/>
<circle cx="272.97" cy="314.20" r="3.0" fill="#bababa" stroke="#444" stroke-width="0.8"/>
<circle cx="277.20" cy="324.60" r="3.0" fill="#bababa" stroke="#444" stroke-width="0.8"/>
<circle cx="281.42" cy="339.80" r="3.0" fill="#bababa" stroke="#444" stroke-width="0.8"/>
<circle cx="285.65" cy="355.70" r="3.0" fill="#bababa" stroke="#444" stroke-width="0.8"/>
<circle cx="289.88" cy="370.90" r="3.0" fill="#bababa" stroke="#444" stroke-width="0.8"/>
<circle cx="294.10" cy="381.50" r="3.0" fill="#bababa" stroke="#444" stroke-width="0.8"/>
<circle cx="298.32" cy="387.10" r="3.0" fill="#bababa" stroke="#444" stroke-width="0.8"/>
<circle cx="302.55" cy="390.30" r="3.0" fill="#bababa" stroke="#444" stroke-width="0.8"/>
<circle cx="306.77" cy="392.20" r="3.0" fill="#bababa" stroke="#444" stroke-width="0.8"/>
<circle cx="311.00" cy="393.30" r="3.0" fill="#bababa" stroke="#444" stroke-width="0.8"/>
<circle cx="315.22" cy="394.70" r="3.0" fill="#bababa" stroke="#444" stroke-width="0.8"/>
<circle cx="319.45" cy="396.30" r="3.0" fill="#bababa" stroke="#444" stroke-width="0.8"/>
<circle cx="323.67" cy="397.60" r="3.0" fill="#bababa" stroke="#444" stroke-width="0.8"/>
<circle cx="327.90" cy="398.90" r="3.0" fill="#bababa" stroke="#444" stroke-width="0.8"/>
<circle cx="332.12" cy="401.80" r="3.0" fill="#bababa" stroke="#444" stroke-width="0.8"/>
<circle cx="336.35" cy="403.20" r="3.0" fill="#bababa" stroke="#444" stroke-width="0.8"/>
<circle cx="340.57" cy="404.30" r="3.0" fill="#bababa" stroke="#444" stroke-width="0.8"/>
<circle cx="344.80" cy="405.80" r="3.0" fill="#bababa" stroke="#444" stroke-width="0.8"/>
<circle cx="349.02" cy="406.90" r="3.0" fill="#bababa" stroke="#444" stroke-width="0.8"/>
<circle cx="353.25" cy="408.00" r="3.0" fill="#bababa" stroke="#444" stroke-width="0.8"/>
<circle cx="357.48" cy="409.90" r="3.0" fill="#bababa" stroke="#444" stroke-width="0.8"/>
<path d="M47.40,427.30 V554.40 H194.75" fill="none" stroke="#4e4e4e" stroke-width="0.9"/>
<path d="M47.40,554.40 h1.6" stroke="#4e4e4e" stroke-width="0.9"/>
<path d="M47.40,528.98 h1.6" stroke="#4e4e4e" stroke-width="0.9"/>
<path d="M47.40,503.56 h1.6" stroke="#4e4e4e" stroke-width="0.9"/>
<path d="M47.40,478.14 h1.6" stroke="#4e4e4e" stroke-width="0.9"/>
<path d="M47.40,452.72 h1.6" stroke="#4e4e4e" stroke-width="0.9"/>
<path d="M47.40,427.30 h1.6" stroke="#4e4e4e" stroke-width="0.9"/>
<path d="M47.40,554.40 v-1.6" stroke="#4e4e4e" stroke-width="0.9"/>
<path d="M89.50,554.40 v-1.6" stroke="#4e4e4e" stroke-width="0.9"/>
<path d="M131.60,554.40 v-1.6" stroke="#4e4e4e" stroke-width="0.9"/>
<path d="M173.70,554.40 v-1.6" stroke="#4e4e4e" stroke-width="0.9"/>
<text x="42.9" y="558.60" font-size="10.3" text-anchor="end">0</text>
<text x="42.9" y="533.18" font-size="10.3" text-anchor="end">500</text>
<text x="42.9" y="507.76" font-size="10.3" text-anchor="end">1000</text>
<text x="42.9" y="482.34" font-size="10.3" text-anchor="end">1500</text>
<text x="42.9" y="456.92" font-size="10.3" text-anchor="end">2000</text>
<text x="42.9" y="431.50" font-size="10.3" text-anchor="end">2500</text>
<text transform="translate(7.9,491.65) rotate(-90)" font-size="10.8" text-anchor="middle">C<tspan font-size="9" dy="6.1">out</tspan><tspan dy="-6.1">(</tspan><tspan font-style="italic">t</tspan>) (cpm)</text>
<text x="47.40" y="568.8" font-size="10.3" text-anchor="middle">0</text>
<text x="89.50" y="568.8" font-size="10.3" text-anchor="middle">10</text>
<text x="131.60" y="568.8" font-size="10.3" text-anchor="middle">20</text>
<text x="173.70" y="568.8" font-size="10.3" text-anchor="middle">30</text>
<text x="120.57" y="581.7" font-size="10.3" letter-spacing="0.12" text-anchor="middle">Time from Input (s)</text>
<text x="-0.30" y="433.90" font-size="14.4" font-style="italic">G</text>
<text x="124.30" y="444.70" font-size="12.5">OZR<tspan letter-spacing="-0.4">+P/S</tspan></text>
<text x="124.70" y="463.60" font-size="10.9"><tspan font-style="italic" letter-spacing="0.75">RD</tspan><tspan dx="-1.7"> = </tspan><tspan letter-spacing="0.2">0.40</tspan></text>
<path d="M47.40,554.40 C50.42,554.40 62.15,554.43 65.50,554.40 C68.85,554.37 66.83,554.32 67.50,554.20 C68.17,554.08 68.87,553.95 69.50,553.70 C70.13,553.45 70.67,553.32 71.30,552.70 C71.93,552.08 72.68,551.12 73.30,550.00 C73.92,548.88 74.50,547.45 75.00,546.00 C75.50,544.55 75.85,542.97 76.30,541.30 C76.75,539.63 77.25,537.83 77.70,536.00 C78.15,534.17 78.55,532.22 79.00,530.30 C79.45,528.38 79.90,526.63 80.40,524.50 C80.90,522.37 81.48,519.70 82.00,517.50 C82.52,515.30 82.88,513.67 83.50,511.30 C84.12,508.93 84.95,505.90 85.70,503.30 C86.45,500.70 87.07,498.47 88.00,495.70 C88.93,492.93 90.13,489.98 91.30,486.70 C92.47,483.42 93.88,479.03 95.00,476.00 C96.12,472.97 97.03,470.58 98.00,468.50 C98.97,466.42 99.97,464.62 100.80,463.50 C101.63,462.38 102.25,462.12 103.00,461.80 C103.75,461.48 104.38,461.27 105.30,461.60 C106.22,461.93 107.50,462.85 108.50,463.80 C109.50,464.75 110.48,466.03 111.30,467.30 C112.12,468.57 112.72,469.78 113.40,471.40 C114.08,473.02 114.72,474.80 115.40,477.00 C116.08,479.20 116.80,482.05 117.50,484.60 C118.20,487.15 118.90,489.75 119.60,492.30 C120.30,494.85 120.88,497.23 121.70,499.90 C122.52,502.57 123.57,505.75 124.50,508.30 C125.43,510.85 126.27,512.90 127.30,515.20 C128.33,517.50 129.43,520.13 130.70,522.10 C131.97,524.07 133.52,525.75 134.90,527.00 C136.28,528.25 137.65,528.85 139.00,529.60 C140.35,530.35 141.67,530.85 143.00,531.50 C144.33,532.15 145.67,532.80 147.00,533.50 C148.33,534.20 149.58,534.95 151.00,535.70 C152.42,536.45 154.00,537.28 155.50,538.00 C157.00,538.72 157.58,539.08 160.00,540.00 C162.42,540.92 166.67,542.42 170.00,543.50 C173.33,544.58 176.67,545.53 180.00,546.50 C183.33,547.47 187.60,548.65 190.00,549.30 C192.40,549.95 193.67,550.22 194.40,550.40" fill="none" stroke="#000" stroke-width="1.65" stroke-linejoin="round" stroke-linecap="round"/>
<circle cx="47.10" cy="554.00" r="3.0" fill="#bababa" stroke="#444" stroke-width="0.8"/>
<circle cx="51.33" cy="554.00" r="3.0" fill="#bababa" stroke="#444" stroke-width="0.8"/>
<circle cx="55.55" cy="554.00" r="3.0" fill="#bababa" stroke="#444" stroke-width="0.8"/>
<circle cx="59.77" cy="553.00" r="3.0" fill="#bababa" stroke="#444" stroke-width="0.8"/>
<circle cx="64.00" cy="550.60" r="3.0" fill="#bababa" stroke="#444" stroke-width="0.8"/>
<circle cx="68.22" cy="547.70" r="3.0" fill="#bababa" stroke="#444" stroke-width="0.8"/>
<circle cx="72.45" cy="545.30" r="3.0" fill="#bababa" stroke="#444" stroke-width="0.8"/>
<circle cx="76.67" cy="533.10" r="3.0" fill="#bababa" stroke="#444" stroke-width="0.8"/>
<circle cx="80.90" cy="511.70" r="3.0" fill="#bababa" stroke="#444" stroke-width="0.8"/>
<circle cx="85.12" cy="495.00" r="3.0" fill="#bababa" stroke="#444" stroke-width="0.8"/>
<circle cx="89.35" cy="486.80" r="3.0" fill="#bababa" stroke="#444" stroke-width="0.8"/>
<circle cx="93.57" cy="476.50" r="3.0" fill="#bababa" stroke="#444" stroke-width="0.8"/>
<circle cx="97.80" cy="467.20" r="3.0" fill="#bababa" stroke="#444" stroke-width="0.8"/>
<circle cx="102.03" cy="463.80" r="3.0" fill="#bababa" stroke="#444" stroke-width="0.8"/>
<circle cx="106.25" cy="465.90" r="3.0" fill="#bababa" stroke="#444" stroke-width="0.8"/>
<circle cx="110.47" cy="470.80" r="3.0" fill="#bababa" stroke="#444" stroke-width="0.8"/>
<circle cx="114.70" cy="477.70" r="3.0" fill="#bababa" stroke="#444" stroke-width="0.8"/>
<circle cx="118.92" cy="495.30" r="3.0" fill="#bababa" stroke="#444" stroke-width="0.8"/>
<circle cx="123.15" cy="510.10" r="3.0" fill="#bababa" stroke="#444" stroke-width="0.8"/>
<circle cx="127.38" cy="520.80" r="3.0" fill="#bababa" stroke="#444" stroke-width="0.8"/>
<circle cx="131.60" cy="526.00" r="3.0" fill="#bababa" stroke="#444" stroke-width="0.8"/>
<circle cx="135.82" cy="529.90" r="3.0" fill="#bababa" stroke="#444" stroke-width="0.8"/>
<circle cx="140.05" cy="531.80" r="3.0" fill="#bababa" stroke="#444" stroke-width="0.8"/>
<circle cx="144.28" cy="535.60" r="3.0" fill="#bababa" stroke="#444" stroke-width="0.8"/>
<circle cx="148.50" cy="538.50" r="3.0" fill="#bababa" stroke="#444" stroke-width="0.8"/>
<circle cx="152.72" cy="540.40" r="3.0" fill="#bababa" stroke="#444" stroke-width="0.8"/>
<circle cx="156.95" cy="541.90" r="3.0" fill="#bababa" stroke="#444" stroke-width="0.8"/>
<circle cx="161.17" cy="543.20" r="3.0" fill="#bababa" stroke="#444" stroke-width="0.8"/>
<circle cx="165.40" cy="544.50" r="3.0" fill="#bababa" stroke="#444" stroke-width="0.8"/>
<circle cx="169.62" cy="545.60" r="3.0" fill="#bababa" stroke="#444" stroke-width="0.8"/>
<circle cx="173.85" cy="547.00" r="3.0" fill="#bababa" stroke="#444" stroke-width="0.8"/>
<circle cx="178.07" cy="547.90" r="3.0" fill="#bababa" stroke="#444" stroke-width="0.8"/>
<circle cx="182.30" cy="548.90" r="3.0" fill="#bababa" stroke="#444" stroke-width="0.8"/>
<circle cx="186.52" cy="549.80" r="3.0" fill="#bababa" stroke="#444" stroke-width="0.8"/>
<circle cx="190.75" cy="550.80" r="3.0" fill="#bababa" stroke="#444" stroke-width="0.8"/>
<circle cx="194.97" cy="551.70" r="3.0" fill="#bababa" stroke="#444" stroke-width="0.8"/>
<path d="M209.90,427.30 V554.40 H357.25" fill="none" stroke="#4e4e4e" stroke-width="0.9"/>
<path d="M209.90,554.40 h1.6" stroke="#4e4e4e" stroke-width="0.9"/>
<path d="M209.90,528.98 h1.6" stroke="#4e4e4e" stroke-width="0.9"/>
<path d="M209.90,503.56 h1.6" stroke="#4e4e4e" stroke-width="0.9"/>
<path d="M209.90,478.14 h1.6" stroke="#4e4e4e" stroke-width="0.9"/>
<path d="M209.90,452.72 h1.6" stroke="#4e4e4e" stroke-width="0.9"/>
<path d="M209.90,427.30 h1.6" stroke="#4e4e4e" stroke-width="0.9"/>
<path d="M209.90,554.40 v-1.6" stroke="#4e4e4e" stroke-width="0.9"/>
<path d="M252.00,554.40 v-1.6" stroke="#4e4e4e" stroke-width="0.9"/>
<path d="M294.10,554.40 v-1.6" stroke="#4e4e4e" stroke-width="0.9"/>
<path d="M336.20,554.40 v-1.6" stroke="#4e4e4e" stroke-width="0.9"/>
<text x="209.90" y="568.8" font-size="10.3" text-anchor="middle">0</text>
<text x="252.00" y="568.8" font-size="10.3" text-anchor="middle">10</text>
<text x="294.10" y="568.8" font-size="10.3" text-anchor="middle">20</text>
<text x="336.20" y="568.8" font-size="10.3" text-anchor="middle">30</text>
<text x="283.07" y="581.7" font-size="10.3" letter-spacing="0.12" text-anchor="middle">Time from Input (s)</text>
<text x="197.20" y="433.90" font-size="14.4" font-style="italic">H</text>
<text x="286.80" y="444.70" font-size="12.5">OZR<tspan letter-spacing="-0.4">+T/S</tspan></text>
<text x="287.20" y="463.60" font-size="10.9"><tspan font-style="italic" letter-spacing="0.75">RD</tspan><tspan dx="-1.7"> = </tspan><tspan letter-spacing="0.2">0.41</tspan></text>
<path d="M209.90,554.40 C212.58,554.40 222.90,554.45 226.00,554.40 C229.10,554.35 227.67,554.35 228.50,554.10 C229.33,553.85 230.28,553.45 231.00,552.90 C231.72,552.35 232.28,551.65 232.80,550.80 C233.32,549.95 233.65,549.17 234.10,547.80 C234.55,546.43 235.03,544.35 235.50,542.60 C235.97,540.85 236.32,539.00 236.90,537.30 C237.48,535.60 238.37,534.87 239.00,532.40 C239.63,529.93 240.08,525.80 240.70,522.50 C241.32,519.20 241.93,516.17 242.70,512.60 C243.47,509.03 244.40,504.52 245.30,501.10 C246.20,497.68 247.22,494.83 248.10,492.10 C248.98,489.37 249.65,487.32 250.60,484.70 C251.55,482.08 252.72,478.73 253.80,476.40 C254.88,474.07 256.08,472.28 257.10,470.70 C258.12,469.12 258.92,467.58 259.90,466.90 C260.88,466.22 261.90,466.22 263.00,466.60 C264.10,466.98 265.51,468.07 266.51,469.20 C267.51,470.33 268.24,471.67 269.00,473.40 C269.76,475.13 270.40,477.40 271.10,479.60 C271.80,481.80 272.50,484.05 273.20,486.60 C273.90,489.15 274.62,492.02 275.30,494.90 C275.98,497.78 276.62,501.00 277.30,503.90 C277.98,506.80 278.58,509.40 279.40,512.30 C280.22,515.20 281.25,518.65 282.20,521.30 C283.15,523.95 283.98,526.42 285.10,528.20 C286.22,529.98 287.88,531.07 288.90,532.00 C289.92,532.93 290.30,532.97 291.20,533.80 C292.10,534.63 293.08,535.98 294.30,537.00 C295.52,538.02 297.10,539.08 298.50,539.90 C299.90,540.72 301.32,541.35 302.70,541.90 C304.08,542.45 305.42,542.83 306.80,543.20 C308.18,543.57 309.13,543.77 311.00,544.10 C312.87,544.43 315.67,544.82 318.00,545.20 C320.33,545.58 322.17,545.90 325.00,546.40 C327.83,546.90 331.67,547.63 335.00,548.20 C338.33,548.77 341.33,549.23 345.00,549.80 C348.67,550.37 355.00,551.30 357.00,551.60" fill="none" stroke="#000" stroke-width="1.65" stroke-linejoin="round" stroke-linecap="round"/>
<circle cx="209.60" cy="554.00" r="3.0" fill="#bababa" stroke="#444" stroke-width="0.8"/>
<circle cx="213.82" cy="554.00" r="3.0" fill="#bababa" stroke="#444" stroke-width="0.8"/>
<circle cx="218.05" cy="554.00" r="3.0" fill="#bababa" stroke="#444" stroke-width="0.8"/>
<circle cx="222.28" cy="553.00" r="3.0" fill="#bababa" stroke="#444" stroke-width="0.8"/>
<circle cx="226.50" cy="550.80" r="3.0" fill="#bababa" stroke="#444" stroke-width="0.8"/>
<circle cx="230.72" cy="546.30" r="3.0" fill="#bababa" stroke="#444" stroke-width="0.8"/>
<circle cx="234.95" cy="533.20" r="3.0" fill="#bababa" stroke="#444" stroke-width="0.8"/>
<circle cx="239.17" cy="517.60" r="3.0" fill="#bababa" stroke="#444" stroke-width="0.8"/>
<circle cx="243.40" cy="499.10" r="3.0" fill="#bababa" stroke="#444" stroke-width="0.8"/>
<circle cx="247.62" cy="486.30" r="3.0" fill="#bababa" stroke="#444" stroke-width="0.8"/>
<circle cx="251.85" cy="476.80" r="3.0" fill="#bababa" stroke="#444" stroke-width="0.8"/>
<circle cx="256.07" cy="472.00" r="3.0" fill="#bababa" stroke="#444" stroke-width="0.8"/>
<circle cx="260.30" cy="468.90" r="3.0" fill="#bababa" stroke="#444" stroke-width="0.8"/>
<circle cx="264.52" cy="469.70" r="3.0" fill="#bababa" stroke="#444" stroke-width="0.8"/>
<circle cx="268.75" cy="482.70" r="3.0" fill="#bababa" stroke="#444" stroke-width="0.8"/>
<circle cx="272.97" cy="497.40" r="3.0" fill="#bababa" stroke="#444" stroke-width="0.8"/>
<circle cx="277.20" cy="515.40" r="3.0" fill="#bababa" stroke="#444" stroke-width="0.8"/>
<circle cx="281.42" cy="526.80" r="3.0" fill="#bababa" stroke="#444" stroke-width="0.8"/>
<circle cx="285.65" cy="533.20" r="3.0" fill="#bababa" stroke="#444" stroke-width="0.8"/>
<circle cx="289.88" cy="536.00" r="3.0" fill="#bababa" stroke="#444" stroke-width="0.8"/>
<circle cx="294.10" cy="540.00" r="3.0" fill="#bababa" stroke="#444" stroke-width="0.8"/>
<circle cx="298.32" cy="543.40" r="3.0" fill="#bababa" stroke="#444" stroke-width="0.8"/>
<circle cx="302.55" cy="545.10" r="3.0" fill="#bababa" stroke="#444" stroke-width="0.8"/>
<circle cx="306.77" cy="546.00" r="3.0" fill="#bababa" stroke="#444" stroke-width="0.8"/>
<circle cx="311.00" cy="546.20" r="3.0" fill="#bababa" stroke="#444" stroke-width="0.8"/>
<circle cx="315.22" cy="546.50" r="3.0" fill="#bababa" stroke="#444" stroke-width="0.8"/>
<circle cx="319.45" cy="547.10" r="3.0" fill="#bababa" stroke="#444" stroke-width="0.8"/>
<circle cx="323.67" cy="548.00" r="3.0" fill="#bababa" stroke="#444" stroke-width="0.8"/>
<circle cx="327.90" cy="548.70" r="3.0" fill="#bababa" stroke="#444" stroke-width="0.8"/>
<circle cx="332.12" cy="549.30" r="3.0" fill="#bababa" stroke="#444" stroke-width="0.8"/>
<circle cx="336.35" cy="550.00" r="3.0" fill="#bababa" stroke="#444" stroke-width="0.8"/>
<circle cx="340.57" cy="550.70" r="3.0" fill="#bababa" stroke="#444" stroke-width="0.8"/>
<circle cx="344.80" cy="551.30" r="3.0" fill="#bababa" stroke="#444" stroke-width="0.8"/>
<circle cx="349.02" cy="552.00" r="3.0" fill="#bababa" stroke="#444" stroke-width="0.8"/>
<circle cx="353.25" cy="552.60" r="3.0" fill="#bababa" stroke="#444" stroke-width="0.8"/>
<circle cx="357.48" cy="553.20" r="3.0" fill="#bababa" stroke="#444" stroke-width="0.8"/>
</svg></body></html>
